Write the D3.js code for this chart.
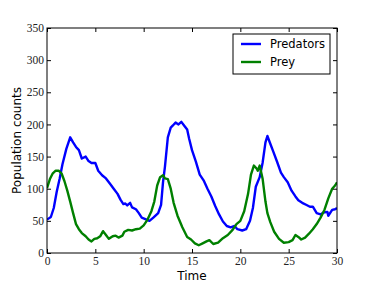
<!DOCTYPE html>
<html>
<head>
<meta charset="utf-8">
<script src="https://cdn.jsdelivr.net/npm/d3@7"></script>
<style>
  body { margin: 0; background: #fff; }
  svg { display: block; }
</style>
</head>
<body>
<div id="chart"></div>
<script>
// data
var predTime = [0,0.4,0.7,1,1.3,1.6,2,2.4,2.7,3,3.3,3.6,4,4.3,4.6,5,5.3,5.7,6.1,6.5,6.9,7.3,7.6,7.9,8.1,8.3,8.6,8.8,9.2,9.5,9.8,10.3,10.6,11,11.5,11.8,12,12.2,12.5,12.8,13,13.3,13.6,13.9,14.2,14.5,14.7,15,15.4,15.8,16.2,16.6,17,17.4,17.8,18.2,18.6,19,19.4,19.7,20.2,20.6,21,21.3,21.6,22,22.3,22.6,22.8,23.1,23.4,23.8,24.2,24.5,24.9,25.3,25.7,26,26.4,26.8,27.2,27.5,27.9,28.3,28.6,29,29.1,29.5,29.8,30];
var predCount = [52,56,70,95,115,138,162,180,172,165,160,147,150,143,140,140,128,121,116,108,100,92,83,76,77,74,78,71,68,62,55,52,50,55,62,75,110,134,180,195,198,203,200,204,198,192,178,160,142,122,113,100,88,73,60,49,42,40,42,37,35,37,50,70,103,118,140,172,182,170,158,142,125,118,110,97,88,82,78,75,72,72,62,60,63,64,58,67,68,70];

var preyTime = [0,0.3,0.6,0.9,1.2,1.5,1.8,2.1,2.4,2.7,3,3.3,3.6,4,4.3,4.6,4.9,5.2,5.5,5.8,6.1,6.4,6.8,7.1,7.4,7.8,8,8.4,8.8,9.2,9.6,10,10.4,10.8,11.1,11.4,11.7,12,12.2,12.5,12.8,13.1,13.5,14,14.5,14.9,15.3,15.7,16.1,16.5,16.8,17.2,17.7,18.2,18.7,19.2,19.6,20,20.4,20.8,21.1,21.4,21.7,21.8,22,22.3,22.6,22.8,23.1,23.5,24,24.5,25,25.4,25.7,26,26.3,26.7,27.1,27.5,27.9,28.3,28.7,29.1,29.5,29.8,30];
var preyCount = [101,115,124,128,128,124,112,97,80,62,45,37,31,26,21,18,22,23,26,34,28,22,26,27,24,27,33,36,35,37,38,43,52,65,80,105,118,121,116,115,100,78,58,40,25,21,15,12,15,18,20,14,16,23,28,36,45,50,65,92,122,136,131,128,136,116,80,62,48,33,22,16,17,20,28,25,21,24,30,37,45,55,67,85,100,105,110];

var xTicks = [0,5,10,15,20,25,30];
var yTicks = [0,50,100,150,200,250,300,350];
var seriesNames = ["Predators", "Prey"];
var seriesColors = ["#0000ff", "#008000"];

var W = 374, H = 282;
var margin = {top: 28, right: 37, bottom: 29, left: 47};
var w = W - margin.left - margin.right,
    h = H - margin.top - margin.bottom;

var svg = d3.select("#chart").append("svg")
    .attr("width", W)
    .attr("height", H);

var g = svg.append("g")
    .attr("transform", "translate(" + margin.left + "," + margin.top + ")");

var x = d3.scaleLinear().domain([0, 30]).range([0, w]);
var y = d3.scaleLinear().domain([0, 350]).range([h, 0]);

var line = d3.line()
    .x(function(d) { return x(d[0]); })
    .y(function(d) { return y(d[1]); });

var series = [
    d3.zip(predTime, predCount),
    d3.zip(preyTime, preyCount)
];

g.append("defs").append("clipPath").attr("id", "clip")
  .append("rect").attr("width", w).attr("height", h);

series.forEach(function(s, i) {
    g.append("path")
        .datum(s)
        .attr("clip-path", "url(#clip)")
        .attr("d", line)
        .style("fill", "none")
        .style("stroke", seriesColors[i])
        .style("stroke-width", 2.4)
        .style("stroke-linejoin", "round");
});

// axes, ticks pointing inward on all four sides
function styleAxis(sel) {
    sel.select(".domain").remove();
    sel.selectAll(".tick line").attr("stroke", "#000");
    sel.selectAll("text")
        .style("font-family", "'Liberation Serif', serif")
        .style("font-size", "11.5px")
        .attr("fill", "#222");
}

g.append("g")
    .attr("transform", "translate(0," + h + ")")
    .call(d3.axisBottom(x).tickValues(xTicks).tickSize(-4).tickPadding(4))
    .call(styleAxis);

g.append("g")
    .call(d3.axisLeft(y).tickValues(yTicks).tickSize(-4).tickPadding(3))
    .call(styleAxis);

g.append("g")
    .call(d3.axisTop(x).tickValues(xTicks).tickSize(-4).tickFormat(""))
    .call(styleAxis);

g.append("g")
    .attr("transform", "translate(" + w + ",0)")
    .call(d3.axisRight(y).tickValues(yTicks).tickSize(-4).tickFormat(""))
    .call(styleAxis);

g.append("rect")
    .attr("width", w)
    .attr("height", h)
    .style("fill", "none")
    .style("stroke", "#000")
    .style("stroke-width", 1);

// axis labels
svg.append("text")
    .attr("x", margin.left + w / 2)
    .attr("y", 280)
    .attr("text-anchor", "middle")
    .style("font-family", "'DejaVu Sans', sans-serif")
    .style("font-size", "12px")
    .text("Time");

svg.append("text")
    .attr("transform", "translate(21," + (margin.top + h / 2) + ") rotate(-90)")
    .attr("text-anchor", "middle")
    .style("font-family", "'DejaVu Sans', sans-serif")
    .style("font-size", "12px")
    .text("Population counts");

// legend
var leg = svg.append("g").attr("transform", "translate(233,34)");
leg.append("rect")
    .attr("width", 97)
    .attr("height", 40)
    .style("fill", "#fff")
    .style("stroke", "#000")
    .style("stroke-width", 1);

seriesNames.forEach(function(name, i) {
    var yy = 10 + i * 18;
    leg.append("line")
        .attr("x1", 8).attr("x2", 28)
        .attr("y1", yy).attr("y2", yy)
        .style("stroke", seriesColors[i])
        .style("stroke-width", 2.4);
    leg.append("text")
        .attr("x", 37)
        .attr("y", yy + 4)
        .style("font-family", "'DejaVu Sans', sans-serif")
        .style("font-size", "11.5px")
        .text(name);
});
</script>
</body>
</html>
